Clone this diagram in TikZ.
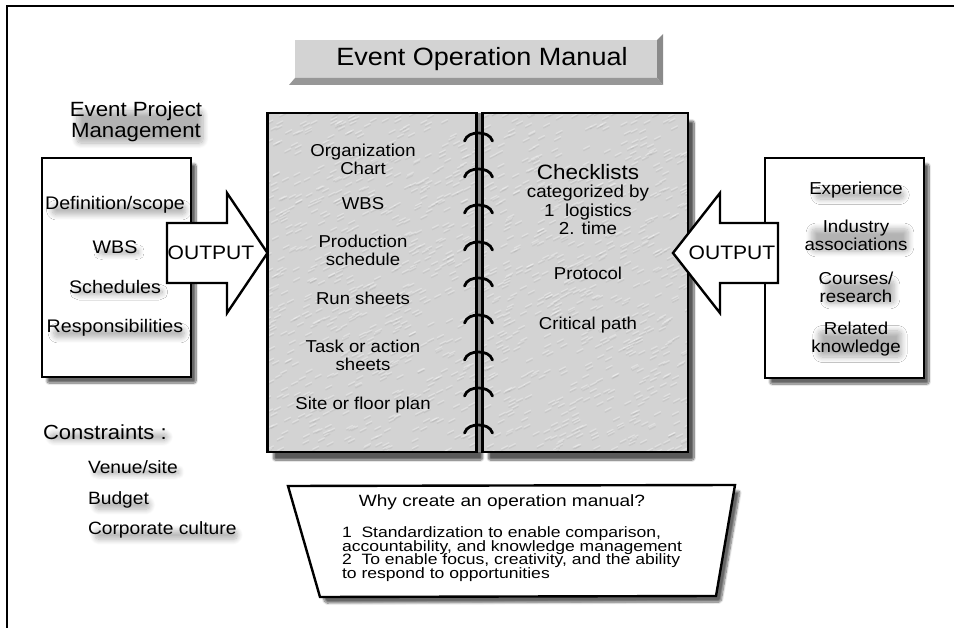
\documentclass[tikz,border=0pt]{standalone}
\usepackage{fontspec}
\setmainfont{Liberation Sans}[FakeStretch=1.08]
\newfontfamily\widefont{Liberation Sans}[FakeStretch=1.17]
\usetikzlibrary{calc,shadows.blur}

\definecolor{facegray}{HTML}{D3D3D3}
\definecolor{bevelgray}{HTML}{979797}
\definecolor{bevelside}{HTML}{8A8A8A}
\definecolor{pagegray}{HTML}{D3D3D3}
\definecolor{spinegray}{HTML}{8C8C8C}

\begin{document}
\begin{tikzpicture}[x=1pt,y=-1pt,
  every node/.style={inner sep=0pt, outer sep=0pt},
  frameline/.style={line width=1.8pt},
  softshadow/.style={blur shadow={shadow xshift=5pt, shadow yshift=-6pt,
      shadow blur steps=10, shadow blur extra rounding=2pt, shadow opacity=60}},
  whitebox/.style={draw, line width=2.4pt, fill=white, softshadow},
  pagefill/.style={fill=pagegray, blur shadow={shadow xshift=6pt, shadow yshift=-8pt,
      shadow blur steps=10, shadow blur extra rounding=2pt, shadow opacity=65}},
  pageborder/.style={line width=2.4pt},
  ring/.style={line width=2.8pt, line cap=round},
  bigarrow/.style={draw, line width=2.4pt, fill=white, line join=miter},
  % soft grey smudge behind a text
  smudge/.style={inner xsep=-3pt, inner ysep=-4pt,
      blur shadow={shadow xshift=4pt, shadow yshift=-5pt, shadow blur radius=5.5pt,
      shadow blur steps=10, shadow blur extra rounding=4pt, shadow opacity=30}},
  titletxt/.style={font=\fontsize{25}{27}\selectfont},
  pagetxt/.style={font=\fontsize{17.2}{18}\selectfont, align=center},
  checktxt/.style={font=\fontsize{20.8}{22}\selectfont},
  catxt/.style={font=\fontsize{17.4}{18.6}\selectfont, align=center},
  headtxt/.style={smudge, font=\fontsize{20.6}{21}\selectfont, align=center},
  lboxtxt/.style={smudge, font=\fontsize{18.2}{19}\selectfont, align=center},
  rboxtxt/.style={smudge, font=\fontsize{17.3}{18}\selectfont, align=center},
  outtxt/.style={font=\fontsize{19.5}{20}\selectfont},
  contxt/.style={smudge, font=\fontsize{20.4}{21}\selectfont, anchor=west},
  itemtxt/.style={smudge, font=\fontsize{17.8}{19}\selectfont, anchor=west},
  whyhead/.style={font=\widefont\fontsize{16.3}{17}\selectfont},
  whytxt/.style={font=\widefont\fontsize{15}{13.5}\selectfont, anchor=base west},
]
\useasboundingbox (0,0) rectangle (954,628);

% outer frame (top and left edges only)
\draw[frameline] (7,628) -- (7,6) -- (954,6);

% raised title plate
\node[fill=facegray, minimum width=362pt, minimum height=38pt] (titlebox) at (476,59) {};
\fill[bevelside] (titlebox.north east) -- ++(6pt,6pt) -- ($(titlebox.south east)+(6pt,-7pt)$) -- (titlebox.south east) -- cycle;
\fill[bevelgray] (titlebox.south west) -- (titlebox.south east) -- ++(6pt,-7pt) -- ($(titlebox.south west)+(-6pt,-7pt)$) -- cycle;
\node[titletxt] (title) at (482,59) {Event Operation Manual};

% left source box
\node[headtxt] (epm) at (136,122) {Event Project\\Management};
\node[whitebox, minimum width=149pt, minimum height=219pt] (lbox) at (116.5,267.5) {};
\node[lboxtxt] (def) at (115,205) {Definition/scope};
\node[lboxtxt] (lwbs) at (115,247) {WBS};
\node[lboxtxt] (sch) at (115,287) {Schedules};
\node[lboxtxt] (resp) at (115,328) {Responsibilities};

% right source box
\node[whitebox, minimum width=159pt, minimum height=220pt] (rbox) at (844.5,268) {};
\node[rboxtxt] (exp) at (856,190) {Experience};
\node[rboxtxt] (ind) at (856,235) {Industry\\associations};
\node[rboxtxt] (crs) at (856,287) {Courses/\\research};
\node[rboxtxt] (rel) at (856,339) {Related\\knowledge};

% constraints list
\node[contxt] (cons) at (46,432) {Constraints :};
\node[itemtxt] (venue) at (91,467) {Venue/site};
\node[itemtxt] (budget) at (91,500) {Budget};
\node[itemtxt] (culture) at (91,530) {Corporate culture};

% the open manual: two pages
\node[pagefill, minimum width=209pt, minimum height=339pt] (lpage) at (372,282.5) {};
\node[pagefill, minimum width=205.5pt, minimum height=339pt] (rpage) at (585.25,282.5) {};
\begin{scope}
  \clip (lpage.south west) rectangle (rpage.north east);
  \pgfmathsetseed{11}
  \foreach \i in {1,...,1400}{
    \pgfmathsetmacro\rx{262+430*rnd}
    \pgfmathsetmacro\ry{108+350*rnd}
    \draw[white, opacity=0.3, line width=1.2pt, line cap=round] (\rx,\ry) -- ++(6,-3);
    \draw[black, opacity=0.05, line width=1.2pt, line cap=round] (\rx,\ry+1.8) -- ++(6,-3);
  }
\end{scope}
\fill[spinegray] (lpage.north east) rectangle (rpage.south west);
\draw[pageborder] (lpage.south west) rectangle (lpage.north east);
\draw[pageborder] (rpage.south west) rectangle (rpage.north east);

% binding rings
\foreach \ry [count=\k] in {133,169,205,242,278,315,352,388,425}{
  \coordinate (ring\k) at (478.5,\ry);
  \draw[ring] ($(ring\k)+(-14,8)$) .. controls ($(ring\k)+(-12,2)$) and ($(ring\k)+(-6,0)$) .. (ring\k)
     .. controls ($(ring\k)+(6,0)$) and ($(ring\k)+(12,2)$) .. ($(ring\k)+(14,8)$);
}

% left page contents
\node[pagetxt] (org) at (363,159) {Organization\\Chart};
\node[pagetxt] (pwbs) at (363,204) {WBS};
\node[pagetxt] (prod) at (363,250) {Production\\schedule};
\node[pagetxt] (run) at (363,298) {Run sheets};
\node[pagetxt] (task) at (363,355) {Task or action\\sheets};
\node[pagetxt] (site) at (363,405) {Site or floor plan};

% right page contents
\node[checktxt] (check) at (588,172) {Checklists};
\node[catxt] (cat) at (588,210) {categorized by\\1\ \ logistics\\2. time};
\node[pagetxt] (proto) at (588,273) {Protocol};
\node[pagetxt] (crit) at (588,325) {Critical path};

% OUTPUT arrows into the manual
\draw[bigarrow] (167,223) -- (227,223) -- (227,193) -- (lpage.west |- 0,253) -- (227,313) -- (227,283) -- (167,283) -- cycle;
\node[outtxt] (outl) at (211,253) {OUTPUT};
\draw[bigarrow] (778,223) -- (720,223) -- (720,193) -- (673,253) -- (720,313) -- (720,283) -- (778,283) -- cycle;
\node[outtxt] (outr) at (732,253) {OUTPUT};

% why box
\draw[whitebox] (288,486) coordinate (w1) -- (735,485) coordinate (w2)
  -- (716,596) coordinate (w3) -- (320,597) coordinate (w4) -- cycle;
\node[whyhead] (why) at (502,502) {Why create an operation manual?};
\node[whytxt] (why1) at (342,537.5) {1\ \ Standardization to enable comparison,};
\node[whytxt] (why2) at (342,551) {accountability, and knowledge management};
\node[whytxt] (why3) at (342,564.5) {2\ \ To enable focus, creativity, and the ability};
\node[whytxt] (why4) at (342,578) {to respond to opportunities};
\end{tikzpicture}
\end{document}
